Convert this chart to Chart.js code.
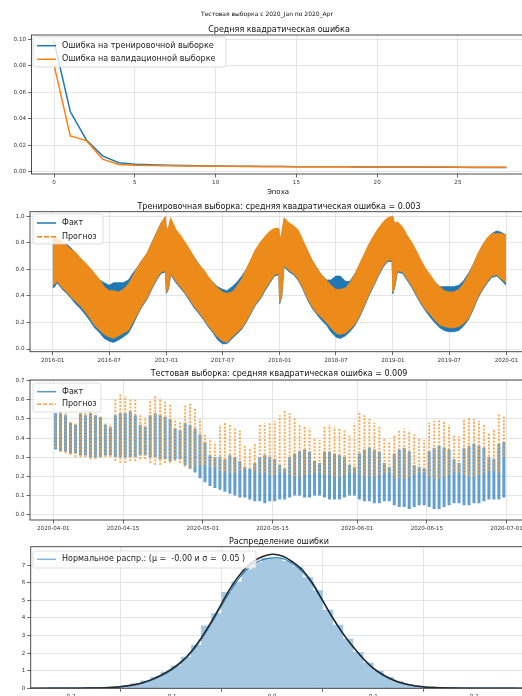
<!DOCTYPE html>
<html><head><meta charset="utf-8">
<script src="https://cdn.jsdelivr.net/npm/chart.js@4.4.1/dist/chart.umd.min.js"></script>
<style>
html,body{margin:0;padding:0;background:#fff;overflow:hidden;width:522px;height:696px;}
canvas{position:absolute;left:0;}
</style></head><body>
<canvas id="c1" width="540" height="200" style="top:0px"></canvas>
<canvas id="c2" width="540" height="168" style="top:200px"></canvas>
<canvas id="c3" width="540" height="167" style="top:368px"></canvas>
<canvas id="c4" width="540" height="161" style="top:535px"></canvas>
<script>
// ---------- DATA ----------
const supTitle = 'Тестовая выборка с 2020_Jan по 2020_Apr';

// 1. loss curves
const epochs = [0,1,2,3,4,5,6,7,8,9,10,11,12,13,14,15,16,17,18,19,20,21,22,23,24,25,26,27,28];
const trainLoss = [0.0985,0.0455,0.0240,0.0120,0.0068,0.0056,0.0052,0.0049,0.0047,0.0045,0.0043,0.0042,0.0041,0.0040,0.0039,0.0038,0.0038,0.0037,0.0037,0.0036,0.0036,0.0035,0.0035,0.0034,0.0034,0.0034,0.0033,0.0033,0.0033];
const valLoss = [0.0805,0.0270,0.0235,0.0095,0.0055,0.0050,0.0048,0.0046,0.0044,0.0043,0.0042,0.0041,0.0040,0.0039,0.0039,0.0038,0.0038,0.0037,0.0037,0.0036,0.0036,0.0036,0.0035,0.0035,0.0035,0.0034,0.0034,0.0034,0.0034];
const lossXTicks = [0,5,10,15,20,25];
const lossYTicks = [0,0.02,0.04,0.06,0.08,0.10];

// 2. training sample: envelope of the dense hourly band
const trainDates = [
 '2016-01-01','2016-01-08','2016-01-15','2016-02-01','2016-02-15','2016-03-01','2016-03-15','2016-04-01','2016-04-15','2016-05-01','2016-05-15','2016-06-01','2016-06-15','2016-07-01','2016-07-15','2016-08-01','2016-08-15','2016-09-01','2016-09-15','2016-10-01','2016-10-15','2016-11-01','2016-11-15','2016-12-01','2016-12-15','2016-12-29',
 '2017-01-01','2017-01-08','2017-01-15','2017-02-01','2017-02-15','2017-03-01','2017-03-15','2017-04-01','2017-04-15','2017-05-01','2017-05-15','2017-06-01','2017-06-15','2017-07-01','2017-07-15','2017-08-01','2017-08-15','2017-09-01','2017-09-15','2017-10-01','2017-10-15','2017-11-01','2017-11-15','2017-12-01','2017-12-15','2017-12-29',
 '2018-01-01','2018-01-08','2018-01-15','2018-02-01','2018-02-15','2018-03-01','2018-03-15','2018-04-01','2018-04-15','2018-05-01','2018-05-15','2018-06-01','2018-06-15','2018-07-01','2018-07-15','2018-08-01','2018-08-15','2018-09-01','2018-09-15','2018-10-01','2018-10-15','2018-11-01','2018-11-15','2018-12-01','2018-12-15','2018-12-29',
 '2019-01-01','2019-01-08','2019-01-15','2019-02-01','2019-02-15','2019-03-01','2019-03-15','2019-04-01','2019-04-15','2019-05-01','2019-05-15','2019-06-01','2019-06-15','2019-07-01','2019-07-15','2019-08-01','2019-08-15','2019-09-01','2019-09-15','2019-10-01','2019-10-15','2019-11-01','2019-11-15','2019-12-01','2019-12-15','2019-12-31'];
const trainFactHigh = [
 0.82,0.83,0.82,0.80,0.79,0.76,0.72,0.68,0.64,0.60,0.56,0.52,0.50,0.48,0.50,0.50,0.50,0.52,0.57,0.62,0.67,0.72,0.80,0.88,0.95,0.99,
 0.88,0.90,0.97,0.88,0.84,0.80,0.75,0.69,0.64,0.59,0.54,0.50,0.47,0.45,0.44,0.47,0.50,0.55,0.60,0.67,0.74,0.80,0.84,0.88,0.90,0.90,
 0.80,0.86,0.97,0.94,0.92,0.89,0.82,0.74,0.67,0.61,0.56,0.52,0.52,0.55,0.55,0.51,0.51,0.57,0.63,0.71,0.78,0.85,0.90,0.95,0.98,0.99,
 0.96,0.94,0.95,0.91,0.85,0.80,0.74,0.66,0.60,0.55,0.50,0.47,0.47,0.47,0.47,0.48,0.51,0.57,0.63,0.71,0.77,0.83,0.87,0.89,0.88,0.86];
const trainFactLow = [
 0.46,0.47,0.50,0.45,0.42,0.38,0.34,0.30,0.26,0.21,0.16,0.12,0.08,0.06,0.05,0.07,0.09,0.12,0.18,0.26,0.32,0.38,0.45,0.52,0.57,0.58,
 0.42,0.45,0.56,0.50,0.46,0.42,0.37,0.31,0.27,0.22,0.17,0.12,0.07,0.04,0.04,0.08,0.11,0.15,0.20,0.27,0.33,0.38,0.44,0.50,0.55,0.56,
 0.34,0.40,0.62,0.58,0.56,0.52,0.46,0.37,0.31,0.26,0.22,0.18,0.13,0.09,0.08,0.10,0.13,0.18,0.24,0.32,0.40,0.48,0.55,0.62,0.66,0.66,
 0.42,0.48,0.58,0.57,0.52,0.47,0.41,0.34,0.29,0.24,0.20,0.16,0.14,0.13,0.13,0.14,0.17,0.22,0.29,0.38,0.44,0.50,0.54,0.55,0.52,0.48];
const trainPredHigh = [
 0.84,0.85,0.83,0.81,0.78,0.75,0.73,0.68,0.65,0.61,0.57,0.52,0.47,0.44,0.44,0.43,0.45,0.49,0.55,0.62,0.67,0.73,0.80,0.88,0.95,1.00,
 0.90,0.92,0.99,0.90,0.86,0.81,0.76,0.69,0.64,0.60,0.55,0.50,0.46,0.43,0.42,0.43,0.47,0.53,0.60,0.68,0.75,0.81,0.85,0.89,0.91,0.91,
 0.82,0.88,0.99,0.95,0.93,0.90,0.83,0.74,0.67,0.61,0.56,0.52,0.48,0.45,0.45,0.46,0.50,0.57,0.64,0.72,0.79,0.86,0.91,0.96,0.99,1.00,
 0.98,0.95,0.96,0.92,0.86,0.81,0.75,0.67,0.61,0.56,0.51,0.47,0.44,0.43,0.43,0.45,0.49,0.56,0.63,0.72,0.78,0.84,0.87,0.87,0.87,0.86];
const trainPredLow = [
 0.48,0.49,0.51,0.46,0.43,0.39,0.36,0.32,0.28,0.23,0.18,0.14,0.11,0.09,0.08,0.10,0.12,0.14,0.20,0.27,0.33,0.39,0.46,0.53,0.58,0.59,
 0.43,0.46,0.57,0.51,0.47,0.43,0.38,0.32,0.28,0.23,0.18,0.13,0.09,0.06,0.05,0.09,0.12,0.16,0.21,0.28,0.34,0.39,0.45,0.51,0.56,0.57,
 0.35,0.41,0.63,0.59,0.57,0.53,0.47,0.38,0.32,0.27,0.24,0.20,0.16,0.12,0.11,0.12,0.15,0.19,0.25,0.33,0.41,0.49,0.56,0.63,0.67,0.67,
 0.43,0.49,0.59,0.58,0.53,0.48,0.42,0.35,0.30,0.26,0.22,0.18,0.17,0.16,0.16,0.17,0.19,0.23,0.30,0.39,0.45,0.51,0.55,0.56,0.53,0.50];
const trainTickDates = ['2016-01-01','2016-07-01','2017-01-01','2017-07-01','2018-01-01','2018-07-01','2019-01-01','2019-07-01','2020-01-01'];
const trainTickLabels = ['2016-01','2016-07','2017-01','2017-07','2018-01','2018-07','2019-01','2019-07','2020-01'];
const trainYTicks = [0,0.2,0.4,0.6,0.8,1.0];

// 3. test sample: daily low / high of the hourly series, 2020-04-01 .. 2020-06-30
const testStart = '2020-04-01';
const testFactHigh = [
 0.53,0.53,0.52,0.48,0.47,0.53,0.52,0.53,0.52,0.51,0.47,0.46,0.52,0.53,0.53,0.54,0.52,0.47,0.46,0.52,0.53,0.52,0.51,0.50,0.45,0.44,0.48,0.47,0.45,0.42,
 0.38,0.31,0.30,0.30,0.29,0.31,0.30,0.28,0.25,0.24,0.27,0.30,0.31,0.30,0.29,0.26,0.24,0.30,0.32,0.33,0.34,0.33,0.28,0.27,0.33,0.33,0.32,0.31,0.30,0.26,0.25,
 0.32,0.34,0.35,0.34,0.33,0.27,0.25,0.32,0.34,0.35,0.33,0.26,0.25,0.24,0.33,0.35,0.36,0.35,0.34,0.29,0.27,0.35,0.36,0.37,0.36,0.35,0.30,0.29,0.37,0.38];
const testFactLow = [
 0.34,0.33,0.33,0.32,0.32,0.31,0.31,0.30,0.30,0.30,0.31,0.31,0.30,0.30,0.30,0.30,0.30,0.31,0.31,0.30,0.30,0.29,0.29,0.28,0.29,0.29,0.26,0.24,0.22,0.19,
 0.17,0.15,0.14,0.13,0.12,0.11,0.10,0.09,0.09,0.08,0.07,0.07,0.06,0.07,0.07,0.08,0.08,0.09,0.10,0.10,0.09,0.09,0.10,0.10,0.09,0.08,0.08,0.08,0.09,0.10,0.10,
 0.08,0.07,0.07,0.06,0.06,0.07,0.07,0.05,0.04,0.04,0.03,0.04,0.05,0.05,0.04,0.03,0.03,0.04,0.05,0.06,0.06,0.05,0.05,0.06,0.06,0.07,0.08,0.08,0.08,0.09];
const testPredHigh = [
 0.52,0.54,0.53,0.49,0.48,0.54,0.55,0.54,0.53,0.52,0.48,0.47,0.60,0.63,0.62,0.61,0.60,0.52,0.51,0.60,0.62,0.61,0.59,0.58,0.50,0.49,0.57,0.58,0.56,0.50,
 0.42,0.40,0.38,0.47,0.48,0.47,0.46,0.44,0.36,0.35,0.37,0.47,0.48,0.48,0.49,0.52,0.55,0.53,0.51,0.47,0.46,0.45,0.40,0.39,0.46,0.47,0.46,0.45,0.44,0.42,0.48,
 0.54,0.52,0.50,0.48,0.46,0.40,0.38,0.42,0.44,0.45,0.44,0.42,0.40,0.39,0.48,0.49,0.50,0.49,0.47,0.42,0.41,0.50,0.51,0.50,0.49,0.47,0.43,0.45,0.53,0.52];
const testPredLow = [
 0.35,0.33,0.32,0.31,0.30,0.30,0.30,0.29,0.29,0.30,0.30,0.30,0.28,0.27,0.27,0.28,0.28,0.29,0.29,0.27,0.26,0.26,0.27,0.27,0.28,0.27,0.25,0.24,0.25,0.26,
 0.26,0.25,0.25,0.23,0.23,0.22,0.22,0.23,0.24,0.24,0.23,0.22,0.22,0.21,0.21,0.22,0.22,0.21,0.20,0.20,0.21,0.21,0.22,0.22,0.21,0.21,0.20,0.20,0.21,0.22,0.22,
 0.21,0.20,0.20,0.20,0.21,0.22,0.22,0.20,0.19,0.19,0.20,0.21,0.22,0.22,0.20,0.19,0.19,0.20,0.21,0.22,0.22,0.21,0.20,0.20,0.21,0.22,0.23,0.23,0.22,0.30];
const testTickDates = ['2020-04-01','2020-04-15','2020-05-01','2020-05-15','2020-06-01','2020-06-15','2020-07-01'];
const testYTicks = [0,0.1,0.2,0.3,0.4,0.5,0.6,0.7];

// 4. error distribution
const histCenters = [-0.215,-0.205,-0.195,-0.185,-0.175,-0.165,-0.155,-0.145,-0.135,-0.125,-0.115,-0.105,-0.095,-0.085,-0.075,-0.065,-0.055,-0.045,-0.035,-0.025,-0.015,-0.005,
 0.005,0.015,0.025,0.035,0.045,0.055,0.065,0.075,0.085,0.095,0.105,0.115,0.125,0.135,0.145,0.155,0.165,0.175,0.185,0.195,0.205,0.215,0.225,0.235];
const histDensity = [0.01,0.01,0.01,0.02,0.03,0.05,0.09,0.16,0.27,0.42,0.64,0.92,1.28,1.78,2.45,3.55,4.25,5.45,6.05,6.75,7.15,7.40,
 7.38,7.22,6.90,6.30,5.55,4.45,3.60,2.80,2.05,1.45,0.98,0.62,0.38,0.22,0.13,0.07,0.04,0.03,0.02,0.01,0.01,0.01,0.005,0.005];
const curveX = [-0.24,-0.22,-0.20,-0.18,-0.16,-0.15,-0.14,-0.13,-0.12,-0.11,-0.10,-0.09,-0.08,-0.07,-0.06,-0.05,-0.04,-0.03,-0.02,-0.01,0.00,0.01,0.02,0.03,0.04,0.05,0.06,0.07,0.08,0.09,0.10,0.11,0.12,0.13,0.14,0.15,0.16,0.18,0.20,0.22,0.25];
const normFitY = [0.00,0.00,0.003,0.01,0.05,0.09,0.17,0.29,0.48,0.74,1.07,1.50,2.10,2.88,3.80,4.82,5.82,6.60,7.15,7.48,7.62,7.52,7.20,6.72,5.97,4.98,4.00,3.12,2.36,1.70,1.15,0.76,0.47,0.27,0.15,0.08,0.04,0.01,0.003,0.001,0.00];
const kdeY = [0,0.003,0.008,0.02,0.05,0.09,0.16,0.27,0.45,0.70,1.02,1.45,2.02,2.80,3.70,4.70,5.65,6.45,7.00,7.30,7.42,7.38,7.10,6.62,5.90,4.95,3.98,3.10,2.35,1.68,1.12,0.72,0.45,0.26,0.15,0.08,0.045,0.015,0.006,0.003,0.001];
const histXTicks = [-0.2,-0.1,0.0,0.1,0.2];
const histYTicks = [0,1,2,3,4,5,6,7];

// ---------- STYLE / HELPERS ----------
const C0 = '#1f77b4', C1 = '#ff7f0e';
const GRID = '#dedede';
const FONT = '"DejaVu Sans", sans-serif';
Chart.defaults.font.family = FONT;
Chart.defaults.font.size = 5.6;
Chart.defaults.color = '#333';
Chart.defaults.animation = false;

const DAY = 86400000;
const dayOf = (s, base) => (Date.parse(s) - Date.parse(base)) / DAY;

function xScale(min, max, ticks, fmt, h) {
  return { type: 'linear', min, max, offset: false,
    grid: { color: GRID, lineWidth: 0.8, tickLength: 3.5, tickColor: '#444', drawTicks: true },
    border: { display: false },
    ticks: { autoSkip: false, maxRotation: 0, padding: 1.5, callback: (v, i) => fmt(i) },
    afterBuildTicks: s => { s.ticks = ticks.map(v => ({ value: v })); },
    afterFit: s => { s.height = h; } };
}
function yScale(min, max, ticks, fmt, w) {
  return { type: 'linear', min, max,
    grid: { color: GRID, lineWidth: 0.8, tickLength: 3.5, tickColor: '#444', drawTicks: true },
    border: { display: false },
    ticks: { autoSkip: false, padding: 2, callback: (v, i) => fmt(i) },
    afterBuildTicks: s => { s.ticks = ticks.map(v => ({ value: v })); },
    afterFit: s => { s.width = w; } };
}

const deco = {
  id: 'deco',
  afterDraw(chart, args, o) {
    const { ctx, chartArea: a } = chart;
    const oy = o.top;
    ctx.save();
    ctx.strokeStyle = '#3a3a3a'; ctx.lineWidth = 0.9;
    ctx.strokeRect(a.left, a.top, a.right - a.left, a.bottom - a.top);
    ctx.fillStyle = '#111'; ctx.textAlign = 'center'; ctx.textBaseline = 'middle';
    (o.texts || []).forEach(t => {
      ctx.font = t.size + 'px ' + FONT;
      ctx.fillText(t.text, t.x, t.y - oy);
    });
    const L = o.legend;
    if (L) {
      const r = 2, bx = L.x, by = L.y - oy, bw = L.w, bh = L.h;
      ctx.beginPath();
      ctx.moveTo(bx + r, by); ctx.lineTo(bx + bw - r, by); ctx.quadraticCurveTo(bx + bw, by, bx + bw, by + r);
      ctx.lineTo(bx + bw, by + bh - r); ctx.quadraticCurveTo(bx + bw, by + bh, bx + bw - r, by + bh);
      ctx.lineTo(bx + r, by + bh); ctx.quadraticCurveTo(bx, by + bh, bx, by + bh - r);
      ctx.lineTo(bx, by + r); ctx.quadraticCurveTo(bx, by, bx + r, by); ctx.closePath();
      ctx.fillStyle = 'rgba(255,255,255,0.8)'; ctx.fill();
      ctx.strokeStyle = '#d6d6d6'; ctx.lineWidth = 0.8; ctx.stroke();
      L.rows.forEach(row => {
        ctx.beginPath();
        ctx.setLineDash(row.dash || []);
        ctx.strokeStyle = row.color; ctx.lineWidth = 1.5;
        ctx.moveTo(37, row.y - oy); ctx.lineTo(56, row.y - oy); ctx.stroke();
        ctx.setLineDash([]);
        ctx.fillStyle = '#222'; ctx.font = '8px ' + FONT; ctx.textAlign = 'left';
        ctx.fillText(row.label, 62, row.y - oy);
      });
    }
    ctx.restore();
  }
};

function baseOptions(top, canvasH, areaTop, plugOpts) {
  return { responsive: false, devicePixelRatio: 1, animation: false,
    layout: { padding: { left: 0, right: 11, top: areaTop - top, bottom: 0 } },
    plugins: { legend: { display: false }, tooltip: { enabled: false }, deco: Object.assign({ top }, plugOpts) },
    elements: { point: { radius: 0 } } };
}

// ---------- CHART 1 : loss ----------
{
  const top = 0, H = 200, areaTop = 35, areaBottom = 174;
  const o = baseOptions(top, H, areaTop, {
    texts: [ { text: supTitle, x: 267, y: 14, size: 6 },
             { text: 'Средняя квадратическая ошибка', x: 279, y: 29.5, size: 8 },
             { text: 'Эпоха', x: 278, y: 192, size: 7 } ],
    legend: { x: 33, y: 37, w: 193, h: 30, rows: [
      { label: 'Ошибка на тренировочной выборке', color: C0, y: 45.7 },
      { label: 'Ошибка на валидационной выборке', color: C1, y: 59.3 } ] } });
  o.scales = {
    x: xScale(-1.4, 29.4, lossXTicks, i => String(lossXTicks[i]), top + H - areaBottom),
    y: yScale(-0.0017, 0.1033, lossYTicks, i => lossYTicks[i].toFixed(2), 31.5) };
  new Chart(document.getElementById('c1'), {
    type: 'line',
    data: { datasets: [
      { data: epochs.map((e, i) => ({ x: e, y: valLoss[i] })), borderColor: C1, borderWidth: 1.5, tension: 0, order: 0 },
      { data: epochs.map((e, i) => ({ x: e, y: trainLoss[i] })), borderColor: C0, borderWidth: 1.5, tension: 0, order: 1 } ] },
    options: o, plugins: [deco] });
}

// ---------- CHART 2 : training sample ----------
{
  const top = 200, H = 168, areaTop = 211.7, areaBottom = 351.7;
  const base = trainDates[0];
  const tx = trainDates.map(d => dayOf(d, base));
  const ticks = trainTickDates.map(d => dayOf(d, base));
  const o = baseOptions(top, H, areaTop, {
    texts: [ { text: 'Тренировочная выборка: средняя квадратическая ошибка = 0.003', x: 279, y: 206.5, size: 8 } ],
    legend: { x: 33, y: 214, w: 70, h: 30, rows: [
      { label: 'Факт', color: C0, y: 223 },
      { label: 'Прогноз', color: C1, y: 236.7, dash: [5, 2] } ] } });
  o.scales = {
    x: xScale(-73, 1534, ticks, i => trainTickLabels[i], top + H - areaBottom),
    y: yScale(-0.02, 1.035, trainYTicks, i => trainYTicks[i].toFixed(1), 30) };
  const PO = '#ec8a1a';
  new Chart(document.getElementById('c2'), {
    type: 'line',
    data: { datasets: [
      { data: tx.map((x, i) => ({ x, y: trainPredLow[i] })), borderColor: PO, borderWidth: 0.8, fill: false },
      { data: tx.map((x, i) => ({ x, y: trainPredHigh[i] })), borderColor: PO, borderWidth: 0.8, fill: '-1', backgroundColor: PO },
      { data: tx.map((x, i) => ({ x, y: trainFactLow[i] })), borderColor: C0, borderWidth: 0.8, fill: false },
      { data: tx.map((x, i) => ({ x, y: trainFactHigh[i] })), borderColor: C0, borderWidth: 0.8, fill: '-1', backgroundColor: C0 } ] },
    options: o, plugins: [deco] });
}

// ---------- CHART 3 : test sample ----------
{
  const top = 368, H = 167, areaTop = 380, areaBottom = 520;
  const ticks = testTickDates.map(d => dayOf(d, testStart));
  const fact = [], pred = [];
  for (let d = 0; d < testFactLow.length; d++) {
    fact.push({ x: d + 0.45, y: testFactLow[d] }, { x: d + 0.45, y: testFactHigh[d] }, { x: d + 0.45, y: null });
    pred.push({ x: d + 0.45, y: testPredLow[d] }, { x: d + 0.45, y: testPredHigh[d] }, { x: d + 0.45, y: null });
  }
  const o = baseOptions(top, H, areaTop, {
    texts: [ { text: 'Тестовая выборка: средняя квадратическая ошибка = 0.009', x: 279, y: 374, size: 8 } ],
    legend: { x: 33, y: 383, w: 68, h: 29, rows: [
      { label: 'Факт', color: 'rgba(31,119,180,0.75)', y: 391.7 },
      { label: 'Прогноз', color: 'rgba(255,127,14,0.75)', y: 404.3, dash: [4, 2] } ] } });
  o.scales = {
    x: xScale(-4.68, 95.5, ticks, i => testTickDates[i], top + H - areaBottom),
    y: yScale(-0.0277, 0.7037, testYTicks, i => testYTicks[i].toFixed(1), 30) };
  new Chart(document.getElementById('c3'), {
    type: 'line',
    data: { datasets: [
      { data: pred, borderColor: 'rgba(245,160,60,0.85)', borderWidth: 1.9, borderDash: [2.2, 1.3], spanGaps: false },
      { data: fact, borderColor: 'rgba(45,125,190,0.75)', borderWidth: 3, spanGaps: false } ] },
    options: o, plugins: [deco] });
}

// ---------- CHART 4 : error distribution ----------
{
  const top = 535, H = 161, areaTop = 546.7, areaBottom = 688.3;
  const o = baseOptions(top, H, areaTop, {
    texts: [ { text: 'Распределение ошибки', x: 279, y: 541.7, size: 8 } ],
    legend: { x: 33, y: 551, w: 223, h: 17, rows: [
      { label: 'Нормальное распр.: (μ =  -0.00 и σ =  0.05 )', color: '#86b6da', y: 559.3 } ] } });
  o.scales = {
    x: xScale(-0.2389, 0.2541, histXTicks, i => histXTicks[i].toFixed(1), top + H - areaBottom),
    y: yScale(0, 8.05, histYTicks, i => String(histYTicks[i]), 30.7) };
  new Chart(document.getElementById('c4'), {
    type: 'bar',
    data: { datasets: [
      { type: 'line', data: curveX.map((x, i) => ({ x, y: normFitY[i] })), borderColor: '#262626', borderWidth: 1.5, tension: 0.4, order: 0 },
      { type: 'line', data: curveX.map((x, i) => ({ x, y: kdeY[i] })), borderColor: 'rgba(31,119,180,0.85)', borderWidth: 1.3, tension: 0.4, order: 1 },
      { type: 'bar', data: histCenters.map((x, i) => ({ x, y: histDensity[i] })), backgroundColor: '#a6c8e1',
        borderWidth: 0, barPercentage: 1, categoryPercentage: 1, order: 2 } ] },
    options: o, plugins: [deco] });
}
</script>
</body></html>
